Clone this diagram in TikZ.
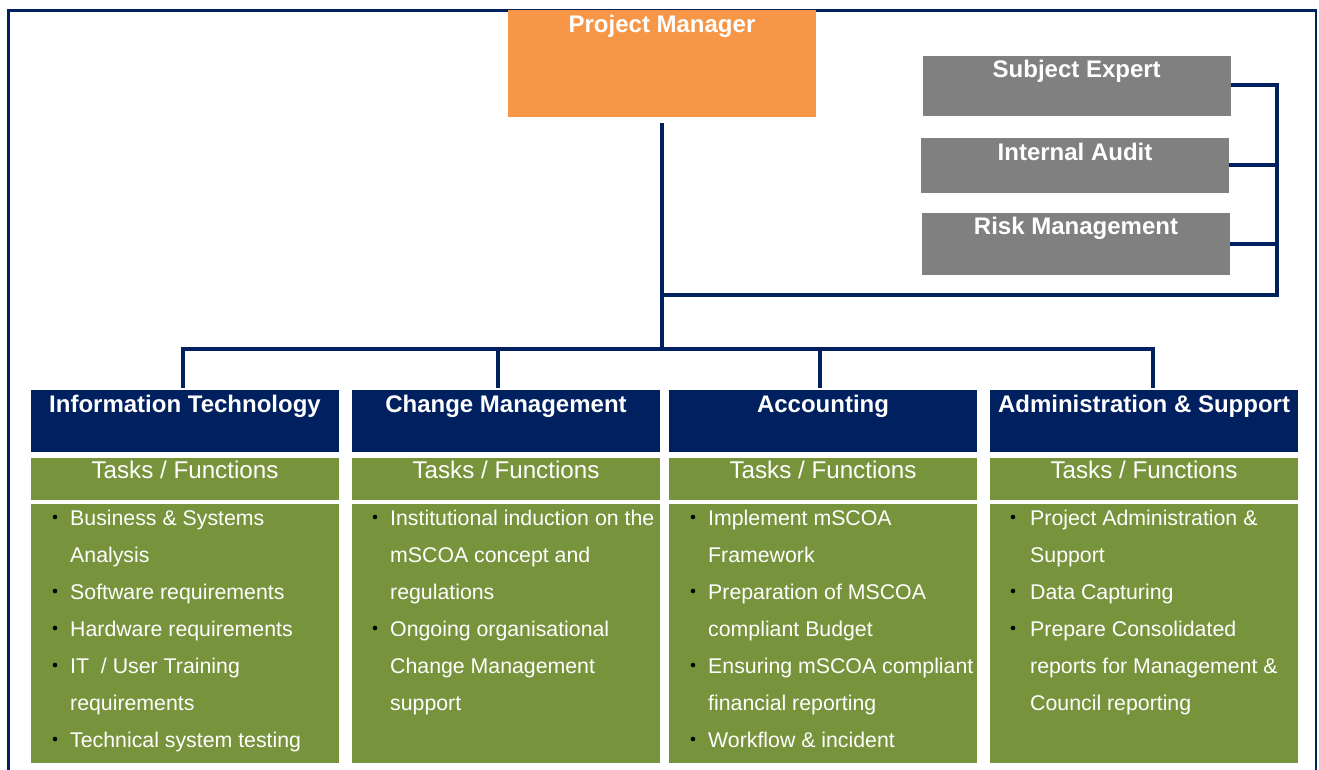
\documentclass[tikz,border=0pt]{standalone}
\usepackage{fontspec}
\setmainfont{Liberation Sans}
\definecolor{navy}{HTML}{002060}
\definecolor{pmorange}{HTML}{F79646}
\definecolor{expgray}{HTML}{808080}
\definecolor{taskgreen}{HTML}{77933C}
\begin{document}
\begin{tikzpicture}[x=1pt,y=-1pt,
  box/.style={anchor=north west, inner sep=0pt, outer sep=0pt, draw=none},
  title/.style={anchor=base, text=white, font=\fontsize{24}{28}\selectfont\bfseries, inner sep=0pt},
  tasktext/.style={anchor=base, text=white, font=\fontsize{24.2}{28}\selectfont, inner sep=0pt},
  item/.style={anchor=base west, text=white, font=\fontsize{21.3}{25}\selectfont, inner sep=0pt},
  dot/.style={circle, fill=black, inner sep=0pt, minimum size=4.6pt},
  conn/.style={draw=navy, line width=4pt, line join=miter},
]
\useasboundingbox (0,0) rectangle (1319,769);
\clip (0,0) rectangle (1319,769);
\fill[white] (0,0) rectangle (1319,769);

% outer frame (runs past the lower edge)
\draw[navy, line width=2.5pt] (8.3,10.5) rectangle (1316,800);

% project manager
\node[box, fill=pmorange, minimum width=308pt, minimum height=107pt] (pm) at (508,10) {};
\node[title] (pmt) at (662,32) {Project Manager};

% advisory boxes
\node[box, fill=expgray, minimum width=308pt, minimum height=59.5pt] (se) at (922.7,56) {};
\node[title] (set) at (1076.7,77.3) {Subject Expert};
\node[box, fill=expgray, minimum width=308pt, minimum height=54.5pt] (ia) at (921,138) {};
\node[title] (iat) at (1075,160.7) {Internal Audit};
\node[box, fill=expgray, minimum width=308pt, minimum height=61.5pt] (rm) at (922,213.3) {};
\node[title] (rmt) at (1076,234.3) {Risk Management};

% connector junctions
\coordinate (hub) at (662,295);
\coordinate (bus) at (662,349);
\coordinate (rtop) at (1277,84.5);
\coordinate (d1) at (183,349);
\coordinate (d2) at (498,349);
\coordinate (d3) at (820,349);
\coordinate (d4) at (1153,349);

% departments
\foreach \i/\x/\name in {1/31/Information Technology, 2/352/Change Management, 3/669/Accounting, 4/990/Administration \& Support}{
  \node[box, fill=navy, minimum width=308pt, minimum height=62pt] (hdr\i) at (\x,390) {};
  \node[title] (hdrt\i) at (\x+154,412) {\name};
  \node[box, fill=taskgreen, minimum width=308pt, minimum height=41.5pt] (task\i) at (\x,458) {};
  \node[tasktext] (taskt\i) at (\x+154,478.5) {Tasks / Functions};
  \node[box, fill=taskgreen, minimum width=308pt, minimum height=259pt] (body\i) at (\x,504) {};
}

% connectors
\draw[conn] ([yshift=-6pt]pm.south) -- (bus);
\draw[conn] (hub) -| (rtop) -- (se.east |- rtop);
\draw[conn] (ia.east) -- (ia.east -| rtop);
\draw[conn] (rm.east) -- (rm.east -| rtop);
\draw[conn] ([xshift=-2pt]d1) -- ([xshift=2pt]d4);
\draw[conn] (d1) -- ([yshift=2pt]d1 |- hdr1.north);
\draw[conn] (d2) -- ([yshift=2pt]d2 |- hdr2.north);
\draw[conn] (d3) -- ([yshift=2pt]d3 |- hdr3.north);
\draw[conn] (d4) -- ([yshift=2pt]d4 |- hdr4.north);

% task lists
\foreach \j/\b/\t in {1/1/{Business \& Systems}, 2/0/{Analysis}, 3/1/{Software requirements},
    4/1/{Hardware requirements}, 5/1/{IT\ \ / User Training}, 6/0/{requirements},
    7/1/{Technical system testing}}{
  \node[item] (ita\j) at (70,{525+37*(\j-1)}) {\t};
  \ifnum\b=1 \node[dot] (itb\j) at (55,{517+37*(\j-1)}) {};\fi
}
\foreach \j/\b/\t in {1/1/{Institutional induction on the}, 2/0/{mSCOA concept and},
    3/0/{regulations}, 4/1/{Ongoing organisational}, 5/0/{Change Management},
    6/0/{support}}{
  \node[item] (cma\j) at (390,{525+37*(\j-1)}) {\t};
  \ifnum\b=1 \node[dot] (cmb\j) at (375,{517+37*(\j-1)}) {};\fi
}
\foreach \j/\b/\t in {1/1/{Implement mSCOA}, 2/0/{Framework}, 3/1/{Preparation of MSCOA},
    4/0/{compliant Budget}, 5/1/{Ensuring mSCOA compliant}, 6/0/{financial reporting},
    7/1/{Workflow \& incident}}{
  \node[item] (aca\j) at (708,{525+37*(\j-1)}) {\t};
  \ifnum\b=1 \node[dot] (acb\j) at (693,{517+37*(\j-1)}) {};\fi
}
\foreach \j/\b/\t in {1/1/{Project Administration \&}, 2/0/{Support}, 3/1/{Data Capturing},
    4/1/{Prepare Consolidated}, 5/0/{reports for Management \&}, 6/0/{Council reporting}}{
  \node[item] (ada\j) at (1030,{525+37*(\j-1)}) {\t};
  \ifnum\b=1 \node[dot] (adb\j) at (1013,{517+37*(\j-1)}) {};\fi
}
\end{tikzpicture}
\end{document}
